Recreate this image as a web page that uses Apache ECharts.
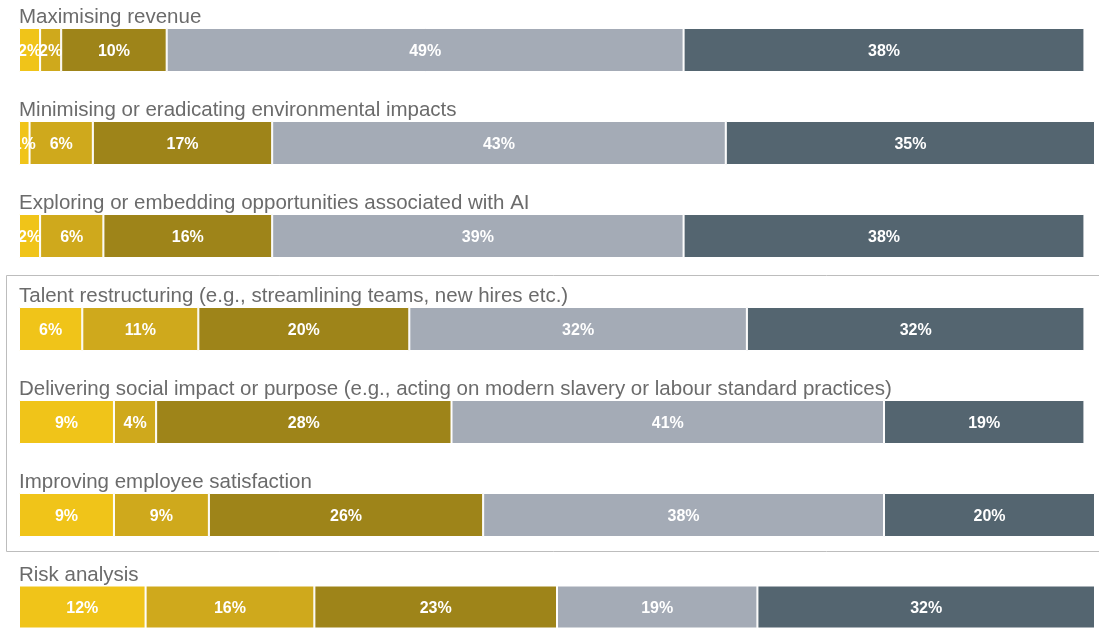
<!DOCTYPE html>
<html>
<head>
<meta charset="utf-8">
<script src="https://cdn.jsdelivr.net/npm/echarts@6/dist/echarts.min.js"></script>
<style>
  html, body { margin: 0; padding: 0; background: #fff; }
  #chart { width: 1099px; height: 628px; }
</style>
</head>
<body>
<div id="chart"></div>
<script>
const categories = [
  "Maximising revenue",
  "Minimising or eradicating environmental impacts",
  "Exploring or embedding opportunities associated with AI",
  "Talent restructuring (e.g., streamlining teams, new hires etc.)",
  "Delivering social impact or purpose (e.g., acting on modern slavery or labour standard practices)",
  "Improving employee satisfaction",
  "Risk analysis"
];
// one array per segment, one value per row
const seg1 = [2, 1, 2, 6, 9, 9, 12];
const seg2 = [2, 6, 6, 11, 4, 9, 16];
const seg3 = [10, 17, 16, 20, 28, 26, 23];
const seg4 = [49, 43, 39, 32, 41, 38, 19];
const seg5 = [38, 35, 38, 32, 19, 20, 32];

const segments = [seg1, seg2, seg3, seg4, seg5];
const colors = ["#F0C419", "#CFA91C", "#9E8419", "#A4ABB6", "#546570"];

const chart = echarts.init(document.getElementById("chart"));

const rowStep = 93;
const grids = [], xAxes = [], yAxes = [], titles = [], series = [];

categories.forEach((cat, i) => {
  grids.push({ left: 19, right: 4, top: 28 + rowStep * i, height: 44 });
  xAxes.push({ gridIndex: i, type: "value", min: 0, max: 102, show: false });
  yAxes.push({ gridIndex: i, type: "category", data: [cat], show: false });
  titles.push({
    text: cat,
    left: 14,
    top: 2 + rowStep * i,
    textStyle: { fontSize: 20.5, fontWeight: "normal", color: "#6b6b6b", fontFamily: "Liberation Sans" }
  });
  segments.forEach((seg, k) => {
    series.push({
      type: "bar",
      stack: "row" + i,
      xAxisIndex: i,
      yAxisIndex: i,
      barWidth: 44,
      data: [seg[i]],
      itemStyle: { color: colors[k], borderColor: "#fff", borderWidth: 1 },
      label: {
        show: true,
        position: "inside",
        offset: [0, 2],
        formatter: "{c}%",
        color: "#fff",
        fontSize: 16,
        fontWeight: "bold",
        fontFamily: "Liberation Sans"
      },
      silent: true
    });
  });
});

const option = {
  animation: false,
  title: titles,
  grid: grids,
  xAxis: xAxes,
  yAxis: yAxes,
  series: series,
  graphic: [
    {
      type: "rect",
      shape: { x: 6.5, y: 275.5, width: 1100, height: 276 },
      style: { fill: "none", stroke: "#bdbdbd", lineWidth: 1 },
      z: -1
    }
  ]
};
chart.setOption(option);
</script>
</body>
</html>
